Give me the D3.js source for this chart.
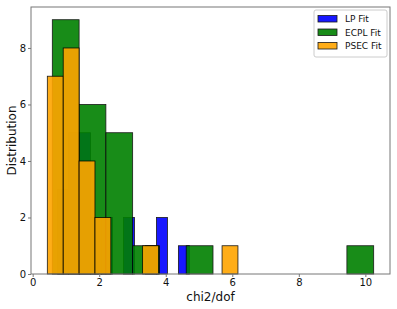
<!DOCTYPE html>
<html>
<head>
<meta charset="utf-8">
<script src="https://cdn.jsdelivr.net/npm/d3@7"></script>
<style>
  body { margin: 0; background: #fff; }
  svg { font-family: "DejaVu Sans", sans-serif; }
</style>
</head>
<body>
<svg id="chart" width="397" height="309"></svg>
<script>
// histogram bins: first edge, bin width, counts per bin
const seriesNames = ['LP Fit', 'ECPL Fit', 'PSEC Fit']
const seriesColors = ['blue', 'green', 'orange']

const lpStart = 0.75, lpWidth = 0.33
const lpCounts = [3, 5, 5, 2, 2, 0, 2, 0, 1, 2, 0, 1]

const ecplStart = 0.59, ecplWidth = 0.805
const ecplCounts = [9, 6, 5, 1, 0, 1, 0, 0, 0, 0, 0, 1]

const psecStart = 0.44, psecWidth = 0.4775
const psecCounts = [7, 8, 4, 2, 0, 0, 1, 0, 0, 0, 0, 1]

const xTicks = [0, 2, 4, 6, 8, 10]
const yTicks = [0, 2, 4, 6, 8]

// build bins
function toBins(start, w, counts) {
  return counts.map((c, i) => ({x0: start + i * w, x1: start + (i + 1) * w, n: c}))
}
const series = [
  toBins(lpStart, lpWidth, lpCounts),
  toBins(ecplStart, ecplWidth, ecplCounts),
  toBins(psecStart, psecWidth, psecCounts),
]

const margin = {top: 7, right: 7, bottom: 35, left: 31}
const W = 397, H = 309

// matplotlib style 5% margins
const allBins = series.flat()
const xmin = d3.min(allBins, d => d.x0), xmax = d3.max(allBins, d => d.x1)
const xpad = (xmax - xmin) * 0.05
const ymax = d3.max(allBins, d => d.n) * 1.05

const x = d3.scaleLinear().domain([xmin - xpad, xmax + xpad]).range([margin.left, W - margin.right])
const y = d3.scaleLinear().domain([0, ymax]).range([H - margin.bottom, margin.top])

const svg = d3.select('#chart')

// bars, blue first then green then orange on top
series.forEach((bins, i) => {
  svg.append('g')
    .selectAll('rect')
    .data(bins.filter(d => d.n > 0))
    .join('rect')
    .attr('x', d => x(d.x0))
    .attr('y', d => y(d.n))
    .attr('width', d => x(d.x1) - x(d.x0))
    .attr('height', d => y(0) - y(d.n))
    .attr('fill', seriesColors[i])
    .attr('stroke', '#000')
    .attr('stroke-width', 0.8)
    .attr('opacity', 0.9)
})

// frame
svg.append('rect')
  .attr('x', margin.left)
  .attr('y', margin.top)
  .attr('width', W - margin.left - margin.right)
  .attr('height', H - margin.top - margin.bottom)
  .attr('fill', 'none')
  .attr('stroke', '#777')
  .attr('stroke-width', 1)

// axes
const xAxis = svg.append('g')
  .attr('transform', 'translate(0,' + (H - margin.bottom) + ')')
  .call(d3.axisBottom(x).tickValues(xTicks).tickSize(3).tickPadding(2))
const yAxis = svg.append('g')
  .attr('transform', 'translate(' + margin.left + ',0)')
  .call(d3.axisLeft(y).tickValues(yTicks).tickSize(3).tickPadding(2))

;[xAxis, yAxis].forEach(a => {
  a.select('.domain').remove()
  a.selectAll('line').attr('stroke', '#777')
  a.selectAll('text').attr('fill', '#111').style('font-size', '10px').style('font-family', '"DejaVu Sans", sans-serif')
})

// axis labels
svg.append('text')
  .attr('x', (margin.left + W - margin.right) / 2)
  .attr('y', 301)
  .attr('text-anchor', 'middle')
  .attr('fill', '#111')
  .style('font-size', '12px')
  .text('chi2/dof')

svg.append('text')
  .attr('transform', 'translate(16,' + ((margin.top + H - margin.bottom) / 2) + ') rotate(-90)')
  .attr('text-anchor', 'middle')
  .attr('fill', '#111')
  .style('font-size', '12px')
  .text('Distribution')

// legend
const lg = svg.append('g').attr('transform', 'translate(314,10)')
lg.append('rect')
  .attr('width', 73).attr('height', 47).attr('rx', 2)
  .attr('fill', '#fff').attr('fill-opacity', 0.8)
  .attr('stroke', '#ccc').attr('stroke-width', 1)
seriesNames.forEach((name, i) => {
  const row = lg.append('g').attr('transform', 'translate(0,' + (9 + i * 13.5) + ')')
  row.append('rect')
    .attr('x', 4).attr('y', -3.5).attr('width', 19).attr('height', 6.5)
    .attr('fill', seriesColors[i]).attr('stroke', '#000').attr('stroke-width', 0.8).attr('opacity', 0.9)
  row.append('text')
    .attr('x', 31).attr('y', 3.3)
    .attr('fill', '#111')
    .style('font-size', '9px')
    .text(name)
})
</script>
</body>
</html>
